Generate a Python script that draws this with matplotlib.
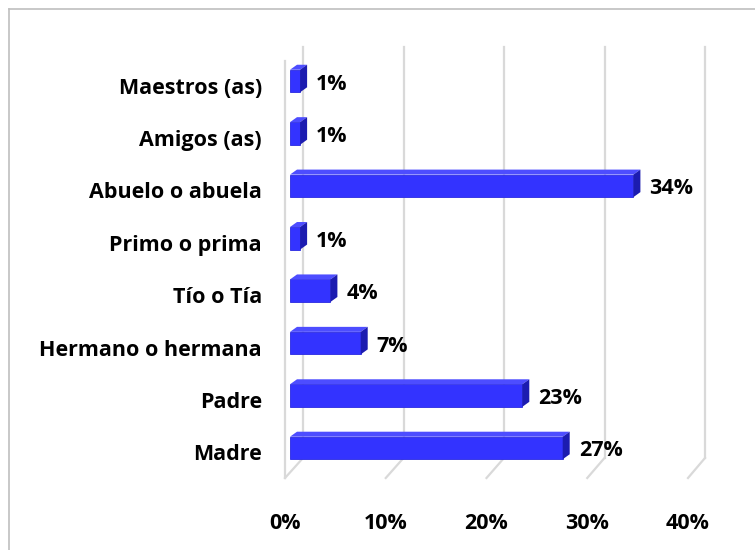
import matplotlib
matplotlib.use("Agg")
import matplotlib.pyplot as plt
from matplotlib.patches import Polygon
from matplotlib.lines import Line2D

categories = ["Madre", "Padre", "Hermano o hermana", "Tío o Tía",
              "Primo o prima", "Abuelo o abuela", "Amigos (as)", "Maestros (as)"]
values = [27, 23, 7, 4, 1, 34, 1, 1]
tick_values = [0, 10, 20, 30, 40]
tick_labels = ["0%", "10%", "20%", "30%", "40%"]

plt.rcParams['font.family'] = ['Open Sans', 'DejaVu Sans']
plt.rcParams['font.weight'] = 'bold'
FS = 15.5

W, H = 755, 550
fig = plt.figure(figsize=(W / 100, H / 100), dpi=100)

# axes in pixel layout: x 270..730, y 40..490
ax = fig.add_axes([270 / W, 1 - 490 / H, 460 / W, 450 / H])
pxx = 10.1   # pixels per percent on the front plane
pxy = 52.4   # pixels per category
ax.set_xlim(-(290 - 270) / pxx, (730 - 290) / pxx)
ax.set_ylim(-(490 - 448) / pxy, 7 + (81 - 40) / pxy)
ax.axis("off")

def dx(p):
    return p / pxx

def dy(p):
    return p / pxy

# walls / gridlines (back wall vertical, floor slanted to the front)
grid_c = "#d9d9d9"
for t, lab in zip(tick_values, tick_labels):
    xb = dx(13) + t * dx(100.5) / 10
    xf = dx(-5) + t * dx(100.75) / 10
    ax.add_line(Line2D([xb, xb], [dy(448 - 47), dy(448 - 458)], color=grid_c, lw=1.6))
    ax.add_line(Line2D([xb, xf], [dy(448 - 458), dy(448 - 478)], color=grid_c, lw=1.6))
    ax.text(xf, dy(448 - 523), lab, ha="center", va="center",
            fontsize=FS, fontweight="bold", clip_on=False)
ax.add_line(Line2D([dx(-5), dx(-5)], [dy(448 - 61), dy(448 - 478)], color=grid_c, lw=1.6))

# 3D-looking bars
h = 0.43
ddx, ddy = dx(7), dy(5)
front_c = "#3333ff"
side_c = "#1c1cb0"
top_c = "#4d4dff"
for i, (cat, v) in enumerate(zip(categories, values)):
    ax.barh(i, v, height=h, color=front_c, edgecolor="#2a2ae0", linewidth=0.6, zorder=3)
    top = [(0, i + h / 2), (v, i + h / 2), (v + ddx, i + h / 2 + ddy), (ddx, i + h / 2 + ddy)]
    side = [(v, i - h / 2), (v + ddx, i - h / 2 + ddy), (v + ddx, i + h / 2 + ddy), (v, i + h / 2)]
    ax.add_patch(Polygon(top, closed=True, color=top_c, zorder=3, lw=0))
    ax.add_patch(Polygon(side, closed=True, color=side_c, zorder=3, lw=0))
    ax.text(v + dx(16), i - dy(3), f"{v}%", ha="left", va="center",
            fontsize=FS, fontweight="bold")
    ax.text(dx(262 - 290), i - dy(7), cat, ha="right", va="center",
            fontsize=FS, fontweight="bold", clip_on=False)

# chart border (top and left visible)
fig.add_artist(Line2D([9 / W, 9 / W], [0, 1 - 9 / H], color="#bfbfbf", lw=1.2,
                      transform=fig.transFigure))
fig.add_artist(Line2D([9 / W, 1], [1 - 9 / H, 1 - 9 / H], color="#bfbfbf", lw=1.2,
                      transform=fig.transFigure))

fig.savefig("out.png", dpi=100)
